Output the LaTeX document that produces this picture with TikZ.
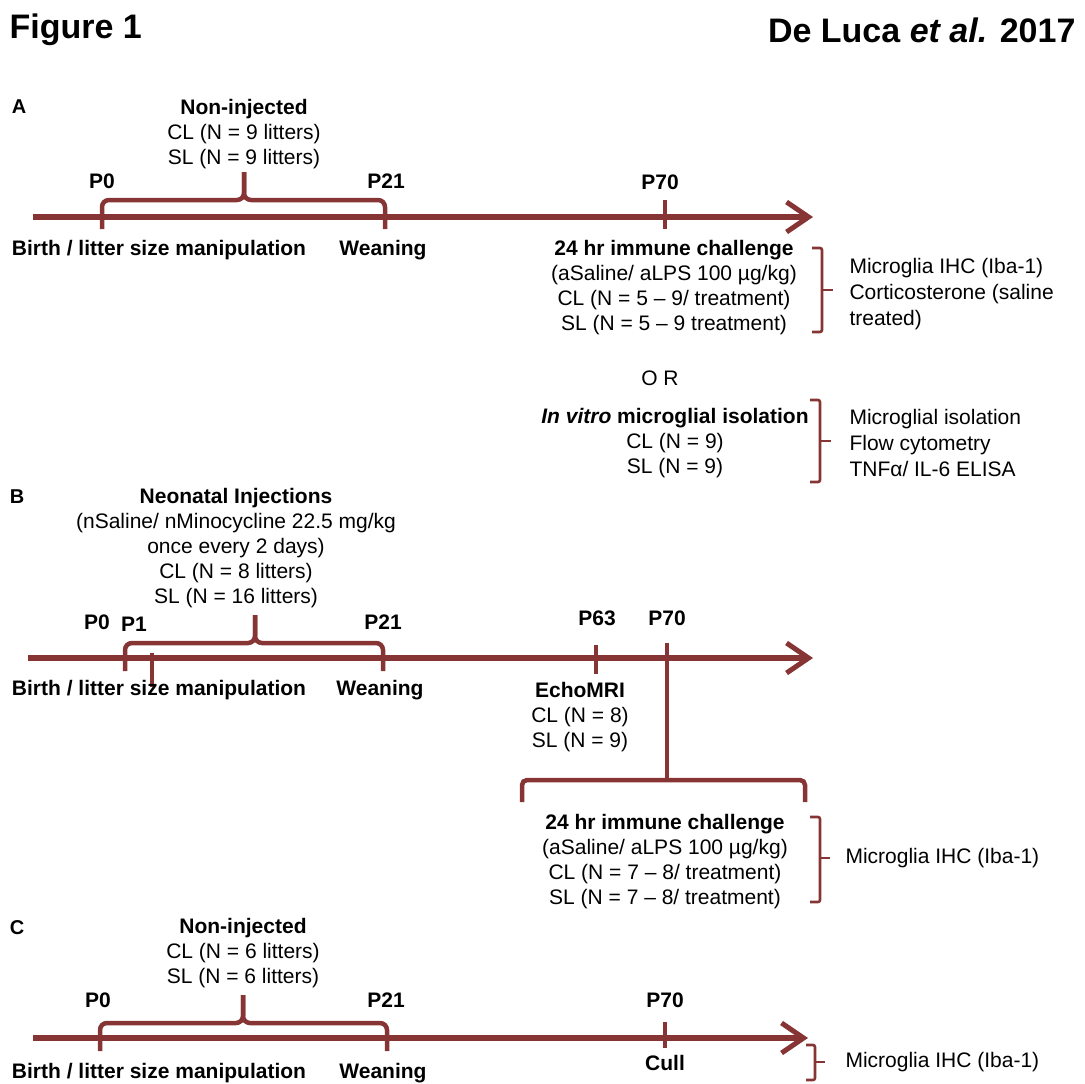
\documentclass[tikz,border=0pt]{standalone}
\usepackage{fontspec}
\setmainfont{Liberation Sans}
\usetikzlibrary{arrows.meta}
\definecolor{timered}{RGB}{134,52,52}

\begin{document}
\begin{tikzpicture}[x=1pt,y=-1pt,
    line style/.style={draw=timered,line width=5.5pt,
      -{Straight Barb[length=22pt,width=30pt,line width=5pt]}},
    tick style/.style={draw=timered,line width=4.5pt},
    brace style/.style={draw=timered,line width=4.5pt,rounded corners=7pt},
    bracket style/.style={draw=timered,line width=2.6pt,rounded corners=2pt},
    head style/.style={font=\fontsize{34}{40}\selectfont\bfseries},
    panel style/.style={font=\fontsize{20}{24}\selectfont\bfseries},
    day style/.style={font=\fontsize{21}{25}\selectfont\bfseries},
    info style/.style={font=\fontsize{21}{25}\selectfont,align=center},
    note style/.style={font=\fontsize{21}{26}\selectfont,align=left,anchor=west}]
  \useasboundingbox (0,0) rectangle (1085,1084);

  \node[head style,anchor=west] (fig) at (6,30) {Figure 1};
  \node[head style,anchor=east] (ref) at (1079,30) {De Luca \textit{et al.} 2017};

  % ---- A ----
  \path \foreach \n/\x in {0/102,21/385,70/665}{%
    (\x,200) coordinate (A\n-top)
    (\x,229) coordinate (A\n-bot)};
  \coordinate (A-mid) at (244,200);
  \coordinate (A-peak) at (244,172);
  \coordinate (A-start) at (33,217);
  \coordinate (A-end) at (813,217);

  \draw[line style] (A-start) -- (A-end);
  \draw[brace style] (A0-bot) |- (A-mid) -- (A-peak);
  \draw[brace style] (A21-bot) |- (A-mid) -- (A-peak);
  \draw[tick style] (A70-top) -- (A70-bot);

  \node[panel style] (A) at (19,107) {A};
  \node[info style] (A-group) at (244,134)
    {\textbf{Non-injected}\\CL (N = 9 litters)\\SL (N = 9 litters)};
  \node[day style] (A-p0) at (102,181) {P0};
  \node[day style] (A-p21) at (386,181) {P21};
  \node[day style] (A-p70) at (660,182) {P70};
  \node[day style] (A-birth) at (159,250) {Birth / litter size manipulation};
  \node[day style] (A-wean) at (383,250) {Weaning};

  \node[info style] (A-lps) at (674,288)
    {\textbf{24 hr immune challenge}\\(aSaline/ aLPS 100 µg/kg)\\
     CL (N = 5 – 9/ treatment)\\SL (N = 5 – 9 treatment)};
  \draw[bracket style] (812,248) -- (822,248) -- (822,332) -- (812,332);
  \draw[bracket style] (822,290) -- (833,290);
  \node[note style] (A-lps-out) at (846,294)
    {Microglia IHC (Iba-1)\\Corticosterone (saline\\treated)};

  \node[info style] (A-or) at (660,378) {O R};

  \node[info style] (A-vitro) at (675,443)
    {\textbf{\textit{In vitro} microglial isolation}\\CL (N = 9)\\SL (N = 9)};
  \draw[bracket style] (810,400) -- (820,400) -- (820,482) -- (810,482);
  \draw[bracket style] (820,441) -- (831,441);
  \node[note style] (A-vitro-out) at (846,443)
    {Microglial isolation\\Flow cytometry\\TNFα/ IL-6 ELISA};

  % ---- B ----
  \path \foreach \n/\x in {0/125,21/383}{%
    (\x,643) coordinate (B\n-top)
    (\x,671) coordinate (B\n-bot)};
  \coordinate (B-mid) at (255,643);
  \coordinate (B-peak) at (255,615);
  \coordinate (B1-top) at (152,653);
  \coordinate (B1-bot) at (152,687);
  \coordinate (B63-top) at (596,645);
  \coordinate (B63-bot) at (596,674);
  \coordinate (B70-top) at (667,643);
  \coordinate (B70-bot) at (667,780);
  \coordinate (B-left) at (522,802);
  \coordinate (B-right) at (805,802);
  \coordinate (B-start) at (28,658);
  \coordinate (B-end) at (813,658);

  \draw[line style] (B-start) -- (B-end);
  \draw[brace style] (B0-bot) |- (B-mid) -- (B-peak);
  \draw[brace style] (B21-bot) |- (B-mid) -- (B-peak);
  \draw[tick style] (B1-top) -- (B1-bot);
  \draw[tick style] (B63-top) -- (B63-bot);
  \draw[tick style] (B70-top) -- (B70-bot);
  \draw[tick style,rounded corners=5pt] (B-left) |- (B70-bot) -| (B-right);

  \node[panel style] (B) at (17,497) {B};
  \node[info style] (B-group) at (236,548)
    {\textbf{Neonatal Injections}\\(nSaline/ nMinocycline 22.5 mg/kg\\
     once every 2 days)\\CL (N = 8 litters)\\SL (N = 16 litters)};
  \node[day style] (B-p0) at (97,622) {P0};
  \node[day style] (B-p1) at (134,624) {P1};
  \node[day style] (B-p21) at (383,622) {P21};
  \node[day style] (B-p63) at (597,618) {P63};
  \node[day style] (B-p70) at (667,618) {P70};
  \node[day style] (B-birth) at (159,690) {Birth / litter size manipulation};
  \node[day style] (B-wean) at (380,690) {Weaning};
  \node[info style] (B-mri) at (580,717)
    {\textbf{EchoMRI}\\CL (N = 8)\\SL (N = 9)};

  \node[info style] (B-lps) at (665,862)
    {\textbf{24 hr immune challenge}\\(aSaline/ aLPS 100 µg/kg)\\
     CL (N = 7 – 8/ treatment)\\SL (N = 7 – 8/ treatment)};
  \draw[bracket style] (810,817) -- (820,817) -- (820,902) -- (810,902);
  \draw[bracket style] (820,858) -- (830,858);
  \node[note style] (B-lps-out) at (842,858) {Microglia IHC (Iba-1)};

  % ---- C ----
  \path \foreach \n/\x in {0/100,21/387,70/665}{%
    (\x,1023) coordinate (C\n-top)
    (\x,1051) coordinate (C\n-bot)};
  \coordinate (C-mid) at (243,1023);
  \coordinate (C-peak) at (243,995);
  \coordinate (C-start) at (33,1038);
  \coordinate (C-end) at (808,1038);

  \draw[line style] (C-start) -- (C-end);
  \draw[brace style] (C0-bot) |- (C-mid) -- (C-peak);
  \draw[brace style] (C21-bot) |- (C-mid) -- (C-peak);
  \draw[tick style] ([yshift=1pt]C70-top) -- ([yshift=3pt]C70-bot);

  \node[panel style] (C) at (17,928) {C};
  \node[info style] (C-group) at (243,953)
    {\textbf{Non-injected}\\CL (N = 6 litters)\\SL (N = 6 litters)};
  \node[day style] (C-p0) at (98,1000) {P0};
  \node[day style] (C-p21) at (386,1000) {P21};
  \node[day style] (C-p70) at (665,1000) {P70};
  \node[day style] (C-birth) at (159,1073) {Birth / litter size manipulation};
  \node[day style] (C-wean) at (383,1073) {Weaning};
  \node[day style] (C-cull) at (665,1063) {Cull};

  \draw[bracket style] (806,1045) -- (815,1045) -- (815,1080) -- (806,1080);
  \draw[bracket style] (815,1062) -- (825,1062);
  \node[note style] (C-out) at (842,1062) {Microglia IHC (Iba-1)};
\end{tikzpicture}
\end{document}
